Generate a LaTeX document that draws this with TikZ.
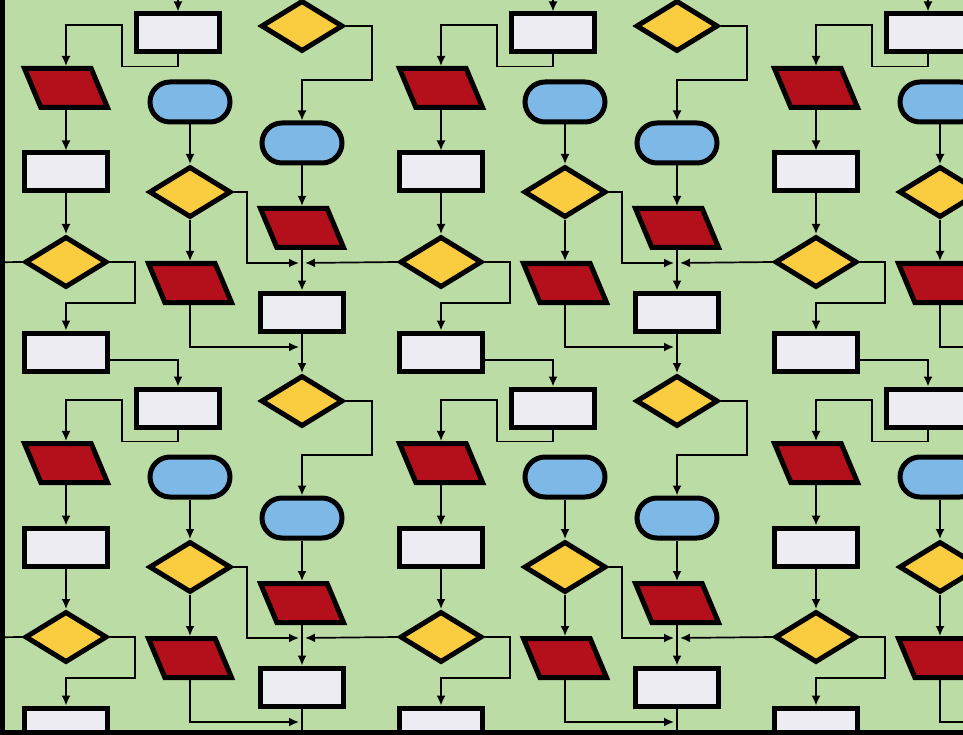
\documentclass[tikz,border=0pt]{standalone}
\usetikzlibrary{shapes.geometric,shapes.misc,arrows.meta,calc}
\definecolor{bg}{RGB}{188,220,165}
\definecolor{pred}{RGB}{180,16,28}
\definecolor{dyel}{RGB}{250,204,64}
\definecolor{tblue}{RGB}{125,184,230}
\definecolor{rwhite}{RGB}{236,236,242}
\tikzset{
 shp/.style={draw=black, line width=5pt, inner sep=1pt},
 procbox/.style={shp, rectangle, fill=rwhite, minimum width=83pt, minimum height=38pt},
 decis/.style={shp, diamond, fill=dyel, minimum width=82pt, minimum height=51pt},
 termin/.style={shp, rounded rectangle, fill=tblue, minimum width=82pt, minimum height=40pt},
 iobox/.style={shp, trapezium, trapezium left angle=108, trapezium right angle=72, trapezium stretches=true, fill=pred, minimum width=83pt, minimum height=39pt},
 conn/.style={draw=black, line width=1.7pt},
 arr/.style={conn, -{Latex[length=10pt,width=9pt]}},
}
\begin{document}
\begin{tikzpicture}[x=1pt,y=-1pt]
\useasboundingbox (0,0) rectangle (963,735);
\fill[bg] (0,0) rectangle (963,735);
\begin{scope}
\clip (0,0) rectangle (963,735);
\foreach \i in {-1,0,1,2}{
 \foreach \j in {-1,0,1,2}{
  \begin{scope}[shift={(375*\i,375*\j)}]
   \node[iobox]  (ap-\i-\j)  at (66,88)   {};
   \node[procbox](ar2-\i-\j) at (66,172)  {};
   \node[decis]  (ad-\i-\j)  at (66,262)  {};
   \node[procbox](ar4-\i-\j) at (66,352)  {};
   \node[procbox](br-\i-\j)  at (178,33)  {};
   \node[termin] (bt-\i-\j)  at (190,102) {};
   \node[decis]  (bd-\i-\j)  at (190,192) {};
   \node[iobox]  (bp-\i-\j)  at (190,283) {};
   \node[decis]  (cd-\i-\j)  at (302,26)  {};
   \node[termin] (ct-\i-\j)  at (302,143) {};
   \node[iobox]  (cp-\i-\j)  at (302,228) {};
   \node[procbox](cr-\i-\j)  at (302,312) {};
   \coordinate (J-\i-\j) at (302,263);
   \coordinate (K-\i-\j) at (302,347);
   \draw[arr] (br-\i-\j.south) -- ++(0,12) -| (122,25) -| (ap-\i-\j.north);
   \draw[arr] (ap-\i-\j.south) -- (ar2-\i-\j.north);
   \draw[arr] (ar2-\i-\j.south) -- (ad-\i-\j.north);
   \draw[arr] (ad-\i-\j.east) -| (135,303) -| (ar4-\i-\j.north);
   \draw[arr] (bt-\i-\j.south) -- (bd-\i-\j.north);
   \draw[arr] (bd-\i-\j.south) -- (bp-\i-\j.north);
   \draw[arr, shorten >=3pt] (bd-\i-\j.east) -| (247,263) -- (J-\i-\j);
   \draw[arr, shorten >=3pt] (bp-\i-\j.south) |- (K-\i-\j);
   \draw[arr] (cd-\i-\j.east) -| (372,80) -| (ct-\i-\j.north);
   \draw[arr] (ct-\i-\j.south) -- (cp-\i-\j.north);
   \draw[conn] (cp-\i-\j.south) -- (J-\i-\j);
   \draw[arr] (J-\i-\j) -- (cr-\i-\j.north);
  \end{scope}
 }
}
\foreach \i in {-1,0,1,2}{
 \foreach \j in {-1,0,1}{
  \pgfmathtruncatemacro{\jny}{\j+1}
  \draw[arr] ([yshift=-8pt]ar4-\i-\j.east) -| (br-\i-\jny.north);
  \draw[arr] (cr-\i-\j.south) -- (cd-\i-\jny.north);
 }
}
\foreach \i in {-1,0,1}{
 \foreach \j in {-1,0,1,2}{
  \pgfmathtruncatemacro{\inx}{\i+1}
  \draw[arr, shorten >=3pt] (ad-\inx-\j.west) -- (J-\i-\j);
 }
}
\end{scope}
\fill[black] (0,0) rectangle (5,735);
\fill[black] (0,730) rectangle (963,735);
\end{tikzpicture}
\end{document}
